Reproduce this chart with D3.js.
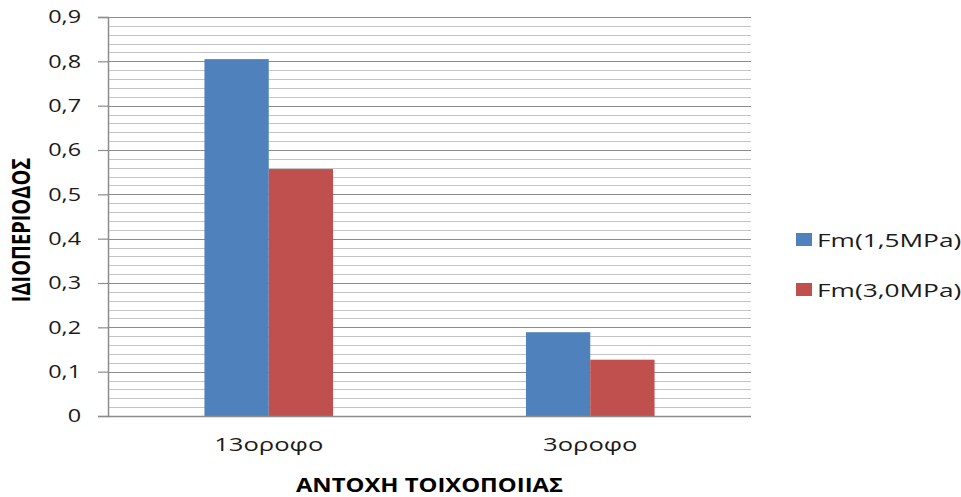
<!DOCTYPE html>
<html>
<head>
<meta charset="utf-8">
<script src="https://cdn.jsdelivr.net/npm/d3@7"></script>
<style>
  html, body { margin: 0; padding: 0; background: #fff; }
  svg { display: block; font-family: "Open Sans", "Noto Sans", sans-serif; }
</style>
</head>
<body>
<svg id="chart" width="961" height="497"></svg>
<script>
// Fundamental period per building height and masonry strength
const categories = ["13οροφο", "3οροφο"];
const seriesNames = ["Fm(1,5MPa)", "Fm(3,0MPa)"];
const seriesColors = ["#4F81BD", "#C0504D"];
const valuesFm15 = [0.805, 0.189];
const valuesFm30 = [0.557, 0.127];
const yTicks = [0, 0.1, 0.2, 0.3, 0.4, 0.5, 0.6, 0.7, 0.8, 0.9];
const yTitle = "ΙΔΙΟΠΕΡΙΟΔΟΣ";
const xTitle = "ΑΝΤΟΧΗ ΤΟΙΧΟΠΟΙΙΑΣ";

const svg = d3.select("#chart");
const plot = { left: 108, right: 751, top: 17, bottom: 416 };

function widen(sel, k) {
  sel.each(function () {
    const w = this.getComputedTextLength();
    this.setAttribute("textLength", w * k);
    this.setAttribute("lengthAdjust", "spacingAndGlyphs");
  });
}

const y = d3.scaleLinear().domain([0, 0.9]).range([plot.bottom, plot.top]);
const x0 = d3.scaleBand().domain(categories).range([plot.left, plot.right])
  .paddingInner(0.6).paddingOuter(0.3);
const x1 = d3.scaleBand().domain(seriesNames).range([0, x0.bandwidth()]);

// minor gridlines every 0.02
const minor = d3.range(0, 46).map(i => i * 0.02).filter((v, i) => i % 5 !== 0);
svg.append("g").selectAll("line").data(minor).join("line")
  .attr("x1", plot.left).attr("x2", plot.right)
  .attr("y1", d => Math.round(y(d)) + 0.5).attr("y2", d => Math.round(y(d)) + 0.5)
  .attr("stroke", "#c4c4c4").attr("stroke-width", 1.2);

// major gridlines every 0.1
svg.append("g").selectAll("line").data(yTicks.slice(1)).join("line")
  .attr("x1", plot.left).attr("x2", plot.right)
  .attr("y1", d => Math.round(y(d)) + 0.5).attr("y2", d => Math.round(y(d)) + 0.5)
  .attr("stroke", "#8c8c8c").attr("stroke-width", 1.2);

// bars
const rows = categories.map((c, i) => ({ cat: c, vals: [valuesFm15[i], valuesFm30[i]] }));
svg.append("g").selectAll("g").data(rows).join("g")
  .attr("transform", d => `translate(${x0(d.cat)},0)`)
  .selectAll("rect").data(d => d.vals.map((v, j) => ({ v, s: seriesNames[j], c: seriesColors[j] })))
  .join("rect")
  .attr("x", d => x1(d.s)).attr("width", x1.bandwidth())
  .attr("y", d => y(d.v)).attr("height", d => y(0) - y(d.v))
  .attr("fill", d => d.c);

// y axis
const fmt = d => d === 0 ? "0" : d3.format(".1f")(d).replace(".", ",");
const yAxis = svg.append("g").attr("transform", `translate(${plot.left},0)`)
  .call(d3.axisLeft(y).tickValues(yTicks).tickFormat(fmt).tickSize(10).tickPadding(17));
yAxis.select(".domain").attr("stroke", "#8c8c8c").attr("stroke-width", 1.5);
yAxis.selectAll(".tick line").attr("stroke", "#8c8c8c").attr("stroke-width", 1.2);
yAxis.selectAll(".tick text").attr("font-size", 18).attr("fill", "#1a1a1a")
  .attr("font-family", "'Open Sans', sans-serif");
widen(yAxis.selectAll(".tick text"), 1.3);

// x axis
const xAxis = svg.append("g").attr("transform", `translate(0,${plot.bottom})`)
  .call(d3.axisBottom(x0).tickSize(0).tickPadding(22));
xAxis.select(".domain").attr("stroke", "#8c8c8c").attr("stroke-width", 1.5)
  .attr("d", `M${plot.left},0.5H${plot.right}`);
xAxis.selectAll(".tick text").attr("font-size", 18).attr("fill", "#1a1a1a")
  .attr("font-family", "'Open Sans', sans-serif");
widen(xAxis.selectAll(".tick text"), 1.42);

// axis titles
const xt = svg.append("text")
  .attr("x", (plot.left + plot.right) / 2).attr("y", 492)
  .attr("text-anchor", "middle").attr("font-size", 20).attr("font-weight", "bold")
  .attr("fill", "#000").text(xTitle);
widen(xt, 1.19);

svg.append("g").attr("transform", `translate(30,230) scale(1.25,1) rotate(-90)`)
  .append("text").attr("text-anchor", "middle")
  .attr("font-size", 20).attr("font-weight", "bold").attr("fill", "#000")
  .text(yTitle);

// legend
const legend = svg.append("g").selectAll("g").data(seriesNames).join("g")
  .attr("transform", (d, i) => `translate(796,${233 + i * 50})`);
legend.append("rect").attr("width", 16).attr("height", 13)
  .attr("fill", (d, i) => seriesColors[i]);
legend.append("text").attr("x", 21).attr("y", 13.5)
  .attr("font-size", 18.5).attr("fill", "#1a1a1a").text(d => d);
widen(legend.selectAll("text"), 1.42);
</script>
</body>
</html>
